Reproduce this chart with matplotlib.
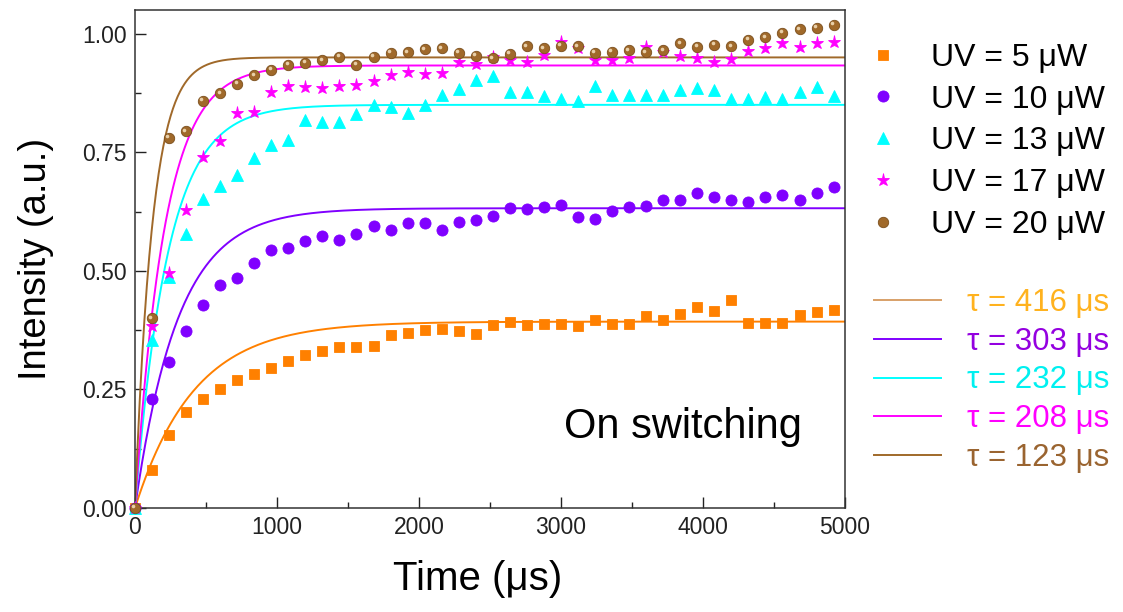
import numpy as np
import matplotlib.pyplot as plt
from matplotlib.transforms import offset_copy

plt.rcParams['font.family'] = ['Liberation Sans', 'DejaVu Sans']

# sampling times (us)
time_us = [0, 120, 240, 360, 480, 600, 720, 840, 960, 1080, 1200, 1320, 1440, 1560,
           1680, 1800, 1920, 2040, 2160, 2280, 2400, 2520, 2640, 2760, 2880, 3000,
           3120, 3240, 3360, 3480, 3600, 3720, 3840, 3960, 4080, 4200, 4320, 4440,
           4560, 4680, 4800, 4920]

uv_5 = [0.000, 0.080, 0.153, 0.203, 0.230, 0.250, 0.269, 0.282, 0.295, 0.309, 0.323,
        0.332, 0.340, 0.340, 0.342, 0.364, 0.368, 0.375, 0.378, 0.374, 0.366, 0.386,
        0.392, 0.385, 0.389, 0.389, 0.383, 0.397, 0.387, 0.388, 0.404, 0.397, 0.409,
        0.423, 0.415, 0.439, 0.391, 0.391, 0.391, 0.406, 0.413, 0.417]
uv_10 = [0.000, 0.229, 0.307, 0.373, 0.428, 0.470, 0.484, 0.517, 0.544, 0.549, 0.563,
         0.574, 0.565, 0.577, 0.594, 0.586, 0.601, 0.601, 0.587, 0.602, 0.608, 0.616,
         0.633, 0.631, 0.634, 0.639, 0.614, 0.609, 0.626, 0.635, 0.636, 0.649, 0.650,
         0.664, 0.656, 0.650, 0.646, 0.655, 0.660, 0.650, 0.665, 0.677]
uv_13 = [0.000, 0.354, 0.488, 0.577, 0.652, 0.678, 0.703, 0.738, 0.766, 0.775, 0.817,
         0.814, 0.814, 0.830, 0.850, 0.846, 0.833, 0.849, 0.871, 0.884, 0.903, 0.911,
         0.877, 0.877, 0.869, 0.862, 0.859, 0.889, 0.870, 0.871, 0.870, 0.871, 0.881,
         0.885, 0.881, 0.862, 0.862, 0.867, 0.863, 0.878, 0.888, 0.868]
uv_17 = [0.000, 0.383, 0.495, 0.629, 0.741, 0.773, 0.832, 0.835, 0.877, 0.890, 0.887,
         0.885, 0.889, 0.891, 0.901, 0.912, 0.920, 0.916, 0.918, 0.941, 0.936, 0.951,
         0.945, 0.940, 0.956, 0.983, 0.970, 0.945, 0.945, 0.949, 0.972, 0.962, 0.954,
         0.948, 0.941, 0.946, 0.963, 0.970, 0.980, 0.971, 0.980, 0.983]
uv_20 = [0.000, 0.400, 0.781, 0.794, 0.859, 0.874, 0.894, 0.912, 0.924, 0.935, 0.938,
         0.944, 0.951, 0.935, 0.951, 0.959, 0.961, 0.967, 0.969, 0.960, 0.954, 0.948,
         0.957, 0.973, 0.969, 0.975, 0.973, 0.960, 0.962, 0.965, 0.961, 0.965, 0.980,
         0.972, 0.976, 0.973, 0.987, 0.992, 1.002, 1.009, 1.012, 1.019]

uv_labels = ['UV = 5 \u03bcW', 'UV = 10 \u03bcW', 'UV = 13 \u03bcW', 'UV = 17 \u03bcW', 'UV = 20 \u03bcW']

# exponential rise fits: A * (1 - exp(-t / tau))
fit_tau = [416, 303, 232, 208, 123]
fit_amp = [0.393, 0.632, 0.850, 0.933, 0.950]
fit_labels = ['\u03c4 = 416 \u03bcs', '\u03c4 = 303 \u03bcs', '\u03c4 = 232 \u03bcs',
              '\u03c4 = 208 \u03bcs', '\u03c4 = 123 \u03bcs']

colors = ['#FF8000', '#8000FF', '#00FFFF', '#FF00FF', '#A0692A']
markers = ['s', 'o', '^', '*', 'o']
msizes = [6.5, 8, 8.8, 9.5, 7.5]
fit_text_colors = ['#FFB21E', '#9400E0', '#00F0F0', '#FF00FF', '#9A6430']
fit_legend_colors = ['#D8A068', '#8000FF', '#00FFFF', '#FF00FF', '#A0692A']

fig = plt.figure(figsize=(11.23, 6.12), dpi=100)
ax = fig.add_axes([0.1202, 0.1699, 0.6322, 0.8138])

t_fit = np.linspace(0, 5000, 600)
fit_lines = []
for tau, amp, c, lab in zip(fit_tau, fit_amp, colors, fit_labels):
    ln, = ax.plot(t_fit, amp * (1 - np.exp(-t_fit / tau)), color=c, lw=1.4, label=lab, zorder=2)
    fit_lines.append(ln)

series = [uv_5, uv_10, uv_13, uv_17, uv_20]
pts = []
for i, (y, c, m, ms, lab) in enumerate(zip(series, colors, markers, msizes, uv_labels)):
    edge = '#7A4E1C' if i == 4 else c
    p, = ax.plot(time_us, y, ls='none', marker=m, ms=ms, color=c, mec=edge,
                 mew=0.6, label=lab, zorder=3, clip_on=False)
    pts.append(p)

# little highlight on the brown "spheres"
hl = offset_copy(ax.transData, fig=fig, x=-1.2, y=1.2, units='points')
ax.plot(time_us, uv_20, ls='none', marker='o', ms=2.6, color='#E8CFA8', mew=0,
        transform=hl, zorder=4, clip_on=False)

ax.set_xlim(0, 5000)
ax.set_ylim(0, 1.05)
ax.set_xticks([0, 1000, 2000, 3000, 4000, 5000])
ax.set_xticks(np.arange(500, 5000, 1000), minor=True)
ax.set_yticks([0, 0.25, 0.5, 0.75, 1.0])
ax.set_yticks([0.125, 0.375, 0.625, 0.875], minor=True)
ax.set_yticklabels(['0.00', '0.25', '0.50', '0.75', '1.00'])
ax.tick_params(which='both', direction='in', labelsize=16.5, width=1, colors='#222222')
ax.tick_params(which='major', length=8, pad=6)
ax.tick_params(which='minor', length=4.5)
for s in ax.spines.values():
    s.set_linewidth(1.1)
    s.set_color('#333333')

ax.set_xlabel('Time (\u03bcs)', fontsize=29, labelpad=16)
ax.xaxis.set_label_coords(0.482, -0.105)
ax.set_ylabel('Intensity (a.u.)', fontsize=27.5, labelpad=20)

ax.text(3860, 0.171, 'On switching', fontsize=30, ha='center', va='center')

leg1 = fig.legend(handles=pts, loc='upper left', bbox_to_anchor=(0.772, 0.930),
                  frameon=False, fontsize=23, handlelength=1.0, handletextpad=1.0,
                  labelspacing=0.37, borderpad=0, borderaxespad=0)

leg2 = fig.legend(handles=fit_lines, loc='upper left', bbox_to_anchor=(0.778, 0.530),
                  frameon=False, fontsize=22.5, handlelength=2.15, handletextpad=0.82,
                  labelspacing=0.285, borderpad=0, borderaxespad=0,
                  labelcolor=fit_text_colors)
for lh, c in zip(leg2.get_lines(), fit_legend_colors):
    lh.set_color(c)

fig.savefig('out.png', dpi=100)
